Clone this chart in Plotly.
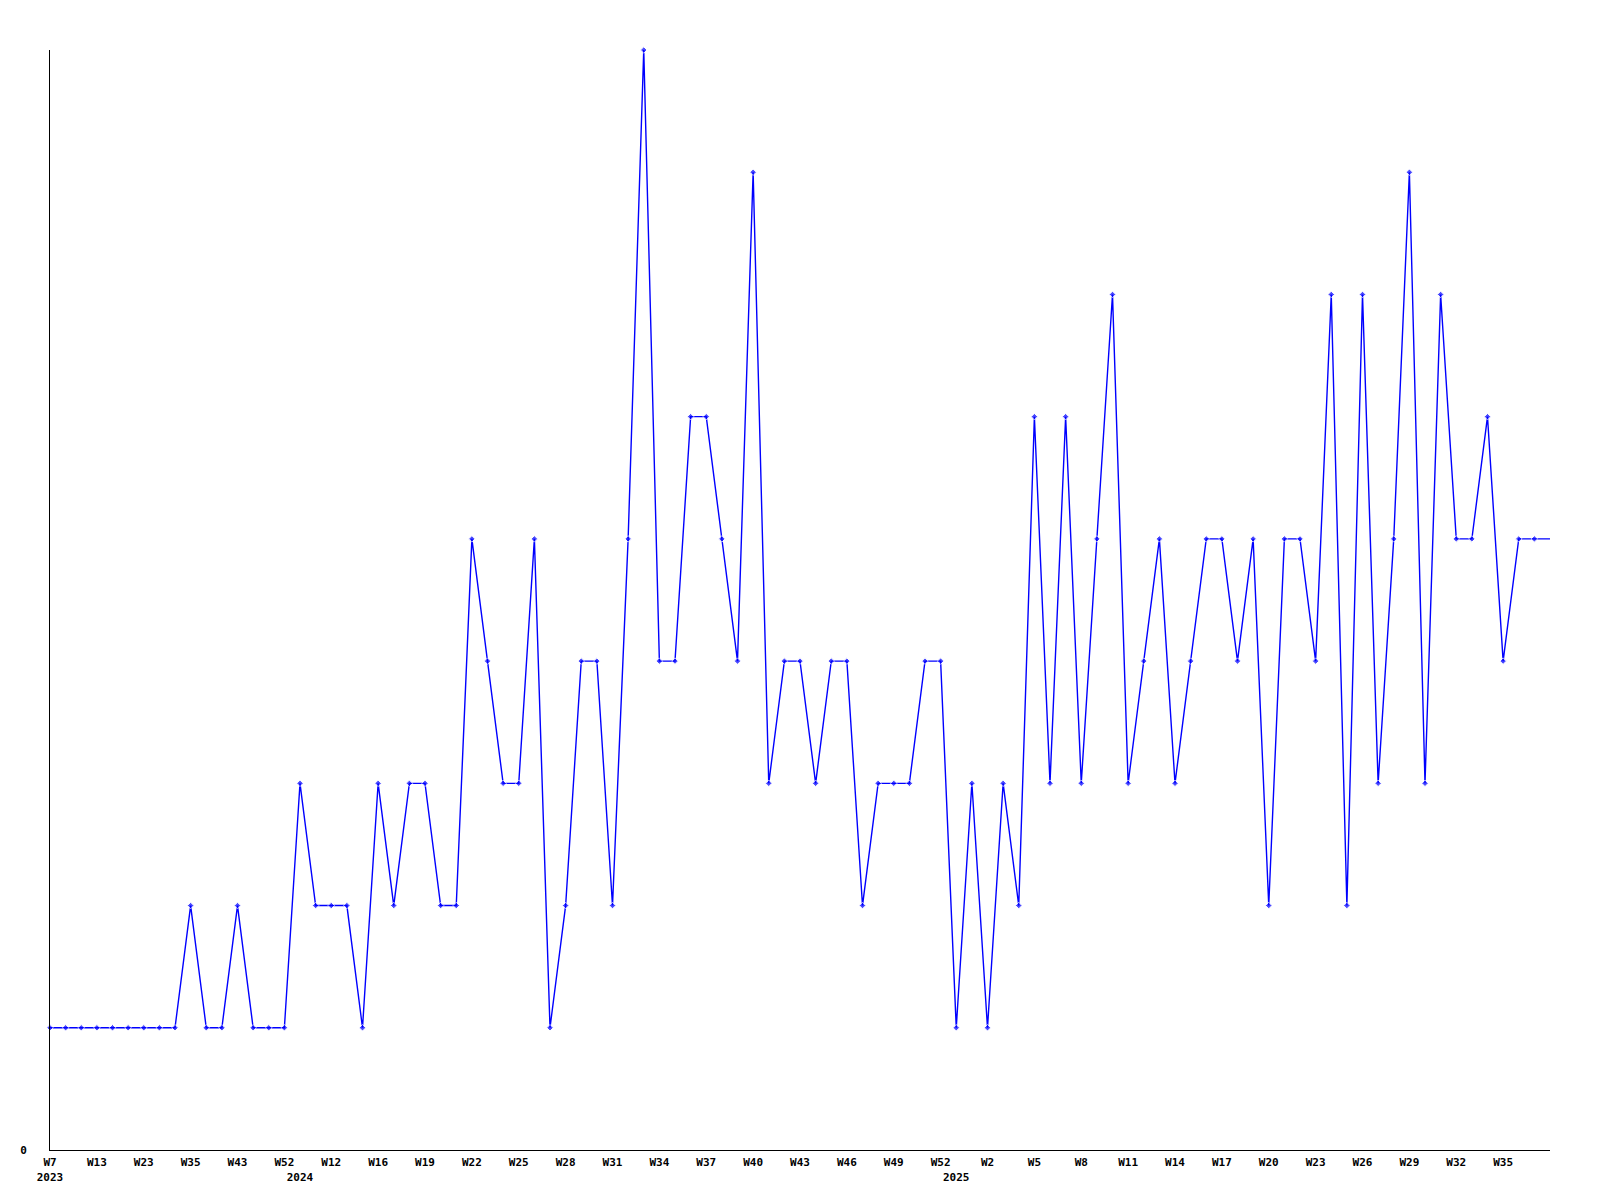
import plotly.graph_objects as go

# ---- data ----
weeks_2023 = [7, 9, 11, 13, 17, 20, 23, 26, 30, 35, 38, 40, 43, 46, 49, 52]
weeks_2024 = [1, 6, 12, 14, 15] + list(range(16, 53))
weeks_2025 = list(range(0, 39))

values = [
    1, 1, 1, 1, 1, 1, 1, 1, 1, 2, 1, 1, 2, 1, 1, 1,          # 2023
    3, 2, 2, 2, 1, 3, 2, 3, 3, 2, 2, 5, 4, 3, 3, 5, 1, 2,    # 2024
    4, 4, 2, 5, 9, 4, 4, 6, 6, 5, 4, 8, 3, 4, 4, 3, 4, 4,
    2, 3, 3, 3, 4, 4,
    1, 3, 1, 3, 2, 6, 3, 6, 3, 5, 7, 3, 4, 5, 3, 4, 5, 5,    # 2025
    4, 5, 2, 5, 5, 4, 7, 2, 7, 3, 5, 8, 3, 7, 5, 5, 6, 4,
    5, 5, 5,
]

# ---- build categories ----
categories, week_txt, year_of = [], [], []
for yr, wks in ((2023, weeks_2023), (2024, weeks_2024), (2025, weeks_2025)):
    for w in wks:
        categories.append(f"{yr}-W{w:02d}")
        week_txt.append(f"W{w}")
        year_of.append(yr)

n = len(categories)

# tick labels: every 3rd week label, plus the year under its first week
tick_idx = set(range(0, n - 3, 3))
first_of_year = {}
for i, yr in enumerate(year_of):
    first_of_year.setdefault(yr, i)
tick_idx |= set(first_of_year.values())
tickvals, ticktext = [], []
for i in sorted(tick_idx):
    top = week_txt[i] if i % 3 == 0 else ""
    bottom = str(year_of[i]) if first_of_year[year_of[i]] == i else ""
    tickvals.append(categories[i])
    ticktext.append(top + ("<br>" + bottom if bottom else ""))

marker_sizes = [5] * (n - 1) + [0]

fig = go.Figure()
fig.add_trace(go.Scatter(
    x=categories, y=values, mode="lines+markers",
    line=dict(color="#0000FF", width=1.4),
    marker=dict(symbol="diamond", size=marker_sizes, color="#0000FF"),
    showlegend=False, cliponaxis=False,
))

font = dict(family="DejaVu Sans Mono", size=11, color="black", weight="bold")

fig.update_layout(
    width=1600, height=1200,
    margin=dict(l=42, r=58, t=42, b=58),
    paper_bgcolor="white", plot_bgcolor="white",
    xaxis=dict(
        type="category", range=[0, n - 1],
        tickmode="array", tickvals=tickvals, ticktext=ticktext,
        tickangle=0, tickfont=font, ticks="", ticklabelstandoff=2,
        showgrid=False, zeroline=False,
        showline=True, linecolor="black", linewidth=1,
    ),
    yaxis=dict(
        range=[0, 9], tickmode="array", tickvals=[0], ticktext=["0"],
        tickfont=font, ticks="", ticklabelstandoff=20,
        showgrid=False, zeroline=False,
        showline=True, linecolor="black", linewidth=1,
    ),
)

fig.write_html("out.html")
